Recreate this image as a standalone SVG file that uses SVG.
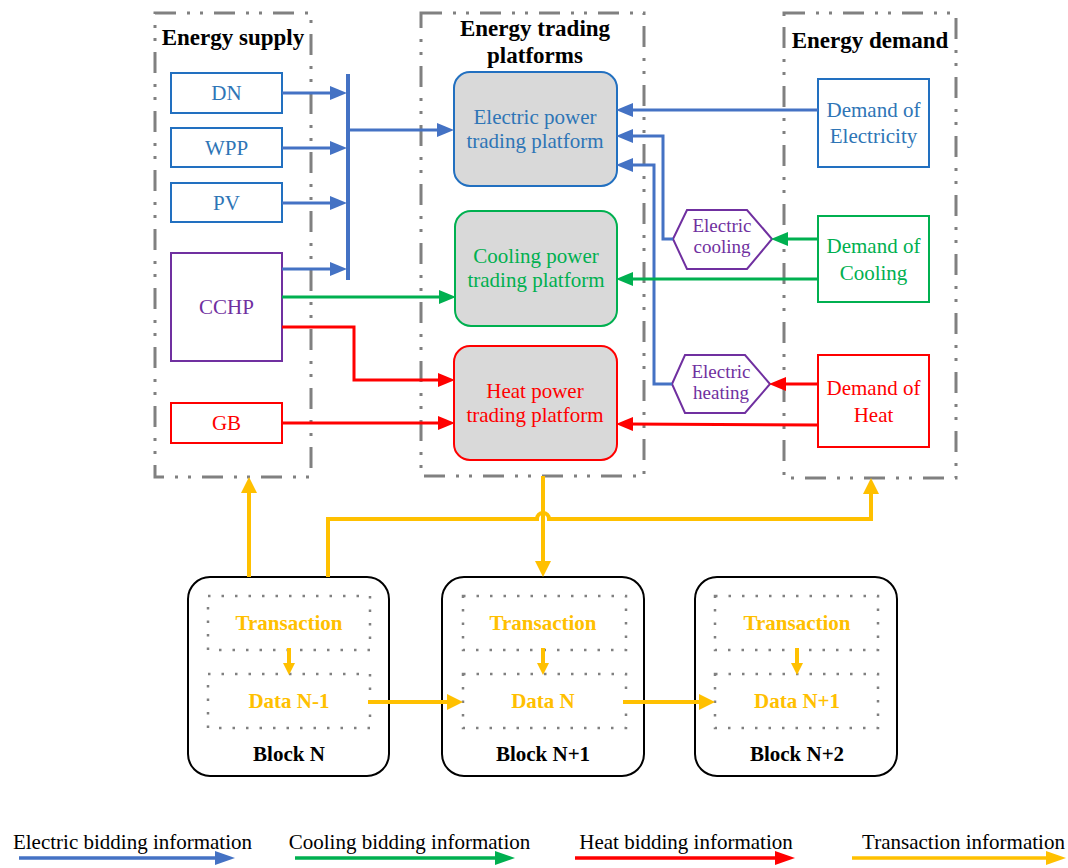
<svg xmlns="http://www.w3.org/2000/svg" width="1068" height="868" viewBox="0 0 1068 868" font-family="'Liberation Serif','Times New Roman',serif">
<style>
text{font-family:"Liberation Serif","Times New Roman",serif;font-size:21px;text-anchor:middle}
.title{font-weight:bold;font-size:23px;fill:#000}
.bold{font-weight:bold}
.hx{font-size:19px}
.cont{fill:none;stroke:#808080;stroke-width:3;stroke-dasharray:21 11 3 10 3 11}
.dot{fill:none;stroke:#808080;stroke-width:2.5;stroke-dasharray:2.5 11}
.blk{fill:#fff;stroke:#000;stroke-width:2}
.plat{fill:#D9D9D9;stroke-width:2}
.box{fill:#fff;stroke-width:2}
.hex{fill:#fff;stroke:#7030A0;stroke-width:2}
.cb{fill:none;stroke:#4472C4;stroke-width:3}
.cg{fill:none;stroke:#00B050;stroke-width:3}
.cr{fill:none;stroke:#FF0000;stroke-width:3}
.cy{fill:none;stroke:#FFC000;stroke-width:4}
.tb{fill:#2E75B6}.tg{fill:#00B050}.tr{fill:#FF0000}.tp{fill:#7030A0}.ty{fill:#FFC000;font-weight:bold}
</style>
<defs>
<marker id="ab" markerUnits="userSpaceOnUse" markerWidth="17" markerHeight="14" refX="6" refY="7" orient="auto"><path d="M0,0 L17,7 L0,14 z" fill="#4472C4"/></marker>
<marker id="ag" markerUnits="userSpaceOnUse" markerWidth="17" markerHeight="14" refX="6" refY="7" orient="auto"><path d="M0,0 L17,7 L0,14 z" fill="#00B050"/></marker>
<marker id="ar" markerUnits="userSpaceOnUse" markerWidth="17" markerHeight="14" refX="6" refY="7" orient="auto"><path d="M0,0 L17,7 L0,14 z" fill="#FF0000"/></marker>
<marker id="ay" markerUnits="userSpaceOnUse" markerWidth="16" markerHeight="16" refX="6" refY="8" orient="auto"><path d="M0,0 L16,8 L0,16 z" fill="#FFC000"/></marker>
<marker id="ays" markerUnits="userSpaceOnUse" markerWidth="12" markerHeight="12" refX="4" refY="6" orient="auto"><path d="M0,0 L12,6 L0,12 z" fill="#FFC000"/></marker>
<marker id="lb" markerUnits="userSpaceOnUse" markerWidth="20" markerHeight="14" refX="12" refY="7" orient="auto"><path d="M0,0 L20,7 L0,14 z" fill="#4472C4"/></marker>
<marker id="lg" markerUnits="userSpaceOnUse" markerWidth="20" markerHeight="14" refX="12" refY="7" orient="auto"><path d="M0,0 L20,7 L0,14 z" fill="#00B050"/></marker>
<marker id="lr" markerUnits="userSpaceOnUse" markerWidth="20" markerHeight="14" refX="12" refY="7" orient="auto"><path d="M0,0 L20,7 L0,14 z" fill="#FF0000"/></marker>
<marker id="ly" markerUnits="userSpaceOnUse" markerWidth="20" markerHeight="14" refX="12" refY="7" orient="auto"><path d="M0,0 L20,7 L0,14 z" fill="#FFC000"/></marker>
</defs>
<rect width="1068" height="868" fill="#fff"/>

<g id="containers">
<g id="energy-supply"><rect class="cont" x="155" y="13" width="156" height="464"/><text class="title" x="233" y="45">Energy supply</text></g>
<g id="energy-trading"><rect class="cont" x="421" y="13" width="223" height="463"/><text class="title" x="535" y="36">Energy trading</text><text class="title" x="535" y="63">platforms</text></g>
<g id="energy-demand"><rect class="cont" x="784" y="13" width="172" height="465"/><text class="title" x="870" y="48">Energy demand</text></g>
</g>

<g id="node-dn"><rect class="box" x="171" y="73" width="111" height="40" stroke="#2270C0"/><text class="tb" x="226.5" y="100">DN</text></g>
<g id="node-wpp"><rect class="box" x="171" y="128" width="111" height="39" stroke="#2270C0"/><text class="tb" x="226.5" y="155">WPP</text></g>
<g id="node-pv"><rect class="box" x="171" y="183" width="111" height="39" stroke="#2270C0"/><text class="tb" x="226.5" y="210">PV</text></g>
<g id="node-cchp"><rect class="box" x="171" y="253" width="111" height="108" stroke="#7030A0"/><text class="tp" x="226.5" y="314">CCHP</text></g>
<g id="node-gb"><rect class="box" x="171" y="403" width="111" height="40" stroke="#FF0000"/><text class="tr" x="226.5" y="430">GB</text></g>

<g id="node-elec-platform"><rect class="plat" x="454" y="72" width="163" height="114" rx="16" stroke="#2270C0"/><text class="tb" x="535" y="124">Electric power</text><text class="tb" x="535" y="148">trading platform</text></g>
<g id="node-cool-platform"><rect class="plat" x="455" y="211" width="162" height="115" rx="16" stroke="#00B050"/><text class="tg" x="536" y="263">Cooling power</text><text class="tg" x="536" y="287">trading platform</text></g>
<g id="node-heat-platform"><rect class="plat" x="454" y="346" width="163" height="114" rx="16" stroke="#FF0000"/><text class="tr" x="535" y="398">Heat power</text><text class="tr" x="535" y="422">trading platform</text></g>

<g id="node-demand-elec"><rect class="box" x="818" y="79" width="111" height="88" stroke="#2270C0"/><text class="tb" x="873.5" y="117">Demand of</text><text class="tb" x="873.5" y="143">Electricity</text></g>
<g id="node-demand-cool"><rect class="box" x="818" y="216" width="111" height="86" stroke="#00B050"/><text class="tg" x="873.5" y="253">Demand of</text><text class="tg" x="873.5" y="280">Cooling</text></g>
<g id="node-demand-heat"><rect class="box" x="818" y="355" width="111" height="92" stroke="#FF0000"/><text class="tr" x="873.5" y="395">Demand of</text><text class="tr" x="873.5" y="422">Heat</text></g>

<g id="node-elec-cooling"><polygon class="hex" points="673,239 687,210 747,210 772,239 747,269 687,269"/><text class="tp hx" x="722" y="232">Electric</text><text class="tp hx" x="722" y="253">cooling</text></g>
<g id="node-elec-heating"><polygon class="hex" points="672,384 685,355 745,355 770,384 745,413 685,413"/><text class="tp hx" x="721" y="378">Electric</text><text class="tp hx" x="721" y="399">heating</text></g>

<g id="block-n"><rect class="blk" x="188" y="577" width="201" height="199" rx="22"/><rect class="dot" x="208" y="596" width="162" height="54"/><rect class="dot" x="208" y="674" width="162" height="54"/><text class="ty" x="289" y="630">Transaction</text><text class="ty" x="289" y="708">Data N-1</text><text class="bold" x="289" y="761">Block N</text></g>
<g id="block-n1"><rect class="blk" x="442" y="577" width="202" height="199" rx="22"/><rect class="dot" x="463" y="596" width="163" height="54"/><rect class="dot" x="463" y="674" width="163" height="54"/><text class="ty" x="543" y="630">Transaction</text><text class="ty" x="543" y="708">Data N</text><text class="bold" x="543" y="761">Block N+1</text></g>
<g id="block-n2"><rect class="blk" x="695" y="577" width="202" height="199" rx="22"/><rect class="dot" x="715" y="596" width="163" height="54"/><rect class="dot" x="715" y="674" width="163" height="54"/><text class="ty" x="797" y="630">Transaction</text><text class="ty" x="797" y="708">Data N+1</text><text class="bold" x="797" y="761">Block N+2</text></g>

<g id="connectors">
<line x1="348" y1="74" x2="348" y2="280" stroke="#4472C4" stroke-width="4"/>
<path class="cb" d="M282,93 H336" marker-end="url(#ab)"/>
<path class="cb" d="M282,148 H336" marker-end="url(#ab)"/>
<path class="cb" d="M282,203 H336" marker-end="url(#ab)"/>
<path class="cb" d="M282,269 H336" marker-end="url(#ab)"/>
<path class="cb" d="M348,130 H443" marker-end="url(#ab)"/>
<path class="cb" d="M818,110 H627" marker-end="url(#ab)"/>
<path class="cb" d="M673,239 H663 V136 H627" marker-end="url(#ab)"/>
<path class="cb" d="M672,384 H654 V165 H627" marker-end="url(#ab)"/>
<path class="cg" d="M282,297 H445" marker-end="url(#ag)"/>
<path class="cg" d="M818,279 H627" marker-end="url(#ag)"/>
<path class="cg" d="M818,239 H782" marker-end="url(#ag)"/>
<path class="cr" d="M282,327 H354 V380 H444" marker-end="url(#ar)"/>
<path class="cr" d="M282,423 H444" marker-end="url(#ar)"/>
<path class="cr" d="M818,425 L627,424" marker-end="url(#ar)"/>
<path class="cr" d="M818,384 H780" marker-end="url(#ar)"/>
<path class="cy" d="M249,577 V487" marker-end="url(#ay)"/>
<path class="cy" d="M328,577 V519 H537 A6,6 0 0 1 549,519 H871 V488" marker-end="url(#ay)"/>
<path class="cy" d="M543,476 V567" marker-end="url(#ay)"/>
<path class="cy" d="M368,702 H453" marker-end="url(#ay)"/>
<path class="cy" d="M623,702 H705" marker-end="url(#ay)"/>
<path class="cy" d="M289,648 V667" stroke-width="3" marker-end="url(#ays)"/>
<path class="cy" d="M543,648 V667" stroke-width="3" marker-end="url(#ays)"/>
<path class="cy" d="M797,648 V667" stroke-width="3" marker-end="url(#ays)"/>
</g>

<g id="legend">
<text x="132.5" y="849">Electric bidding information</text>
<path d="M19,858 H227" stroke="#4472C4" stroke-width="3.5" fill="none" marker-end="url(#lb)"/>
<text x="409.5" y="849">Cooling bidding information</text>
<path d="M295,858 H507" stroke="#00B050" stroke-width="3.5" fill="none" marker-end="url(#lg)"/>
<text x="686" y="849">Heat bidding information</text>
<path d="M575,858 H787" stroke="#FF0000" stroke-width="3.5" fill="none" marker-end="url(#lr)"/>
<text x="963.5" y="849">Transaction information</text>
<path d="M852,858 H1058" stroke="#FFC000" stroke-width="3.5" fill="none" marker-end="url(#ly)"/>
</g>
</svg>
